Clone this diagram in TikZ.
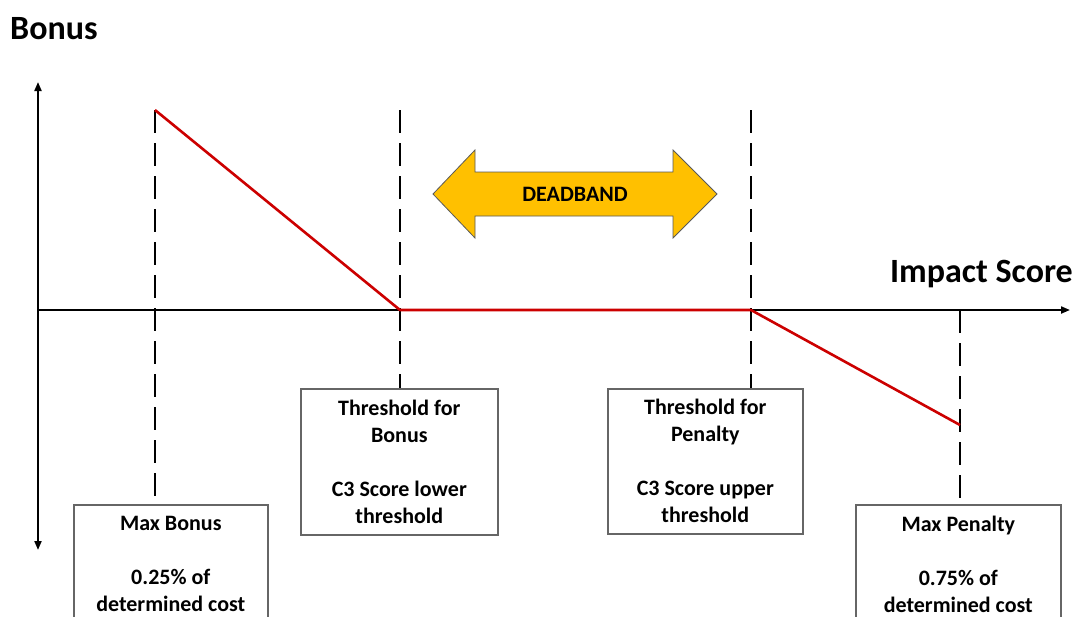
\documentclass[tikz,border=0pt]{standalone}
\usepackage{fontspec}
\setmainfont{Carlito}
\usetikzlibrary{arrows.meta}
\definecolor{gold}{HTML}{FFC000}
\definecolor{curvered}{HTML}{CC0000}
\definecolor{boxline}{HTML}{666666}
\begin{document}
\begin{tikzpicture}[x=1pt,y=-1pt,
  axisline/.style={line width=2pt},
  tipstyle/.style={-{Triangle[length=9pt,width=7pt]}},
  guide/.style={line width=2.8pt, dash pattern=on 23pt off 10pt},
  curve/.style={line width=2.6pt, draw=curvered, line join=round},
  infobox/.style={draw=boxline, line width=1.6pt, fill=white, align=center,
    font=\bfseries\fontsize{22}{27}\selectfont, inner sep=0pt},
  axislabel/.style={font=\bfseries\fontsize{34}{40}\selectfont, inner sep=0pt},
  bandlabel/.style={font=\bfseries\fontsize{22}{26}\selectfont, inner sep=0pt}]
\useasboundingbox (0,0) rectangle (1075,616);

% key points of the bonus/penalty curve
\coordinate (maxpt) at (155,110);
\coordinate (lowthr) at (400,310);
\coordinate (upthr) at (751,310);
\coordinate (minpt) at (960,425);
\coordinate (lowtop) at (400,110);
\coordinate (uptop) at (751,110);
\coordinate (origin) at (38,310);
\coordinate (xend) at (1070,310);
\coordinate (ytop) at (38,82);
\coordinate (ybot) at (38,550);

% description boxes
\node[infobox, minimum width=194pt, minimum height=119pt, anchor=north west]
  (maxbonus) at (73,504) {Max Bonus\\[27pt]0.25\% of\\determined cost};
\node[infobox, minimum width=197pt, minimum height=146pt, anchor=north west]
  (thrbonus) at (300,388) {Threshold for\\Bonus\\[27pt]C3 Score lower\\threshold};
\node[infobox, minimum width=195pt, minimum height=145pt, anchor=north west]
  (thrpenalty) at (607,388) {Threshold for\\Penalty\\[27pt]C3 Score upper\\threshold};
\node[infobox, minimum width=205pt, minimum height=119pt, anchor=north west]
  (maxpenalty) at (855,504) {Max Penalty\\[27pt]0.75\% of\\determined cost};

% dashed guides down to the boxes
\draw[guide] (maxpt) -- (maxpt |- maxbonus.north);
\draw[guide] (lowtop) -- (lowtop |- thrbonus.north);
\draw[guide] (uptop) -- (uptop |- thrpenalty.north);
\draw[guide] (minpt |- origin) -- (minpt |- maxpenalty.north);

% axes
\draw[axisline, {Triangle[length=9pt,width=7pt]}-{Triangle[length=9pt,width=7pt]}] (ybot) -- (ytop);
\draw[axisline, tipstyle] (origin) -- (xend);

% bonus / penalty curve
\draw[curve] (maxpt) -- (lowthr) -- (upthr) -- (minpt);

% axis titles
\node[axislabel, anchor=base west] (bonustitle) at (10,39) {Bonus};
\node[axislabel, anchor=base east] (scoretitle) at (1073,282) {Impact Score};

% deadband double arrow
\draw[fill=gold, draw=black!65, line width=0.8pt, line join=miter]
  (433,194) -- (475,150) -- (475,172) -- (673,172) -- (673,150) -- (717,194)
  -- (673,238) -- (673,216) -- (475,216) -- (475,238) -- cycle;
\node[bandlabel] (deadband) at (575,194) {DEADBAND};
\end{tikzpicture}
\end{document}
